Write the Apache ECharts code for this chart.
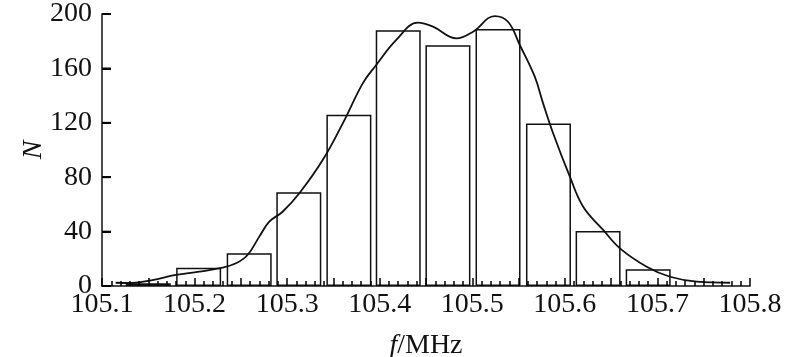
<!DOCTYPE html>
<html>
<head>
<meta charset="utf-8">
<script src="https://cdn.jsdelivr.net/npm/echarts@6/dist/echarts.min.js"></script>
<style>html,body{margin:0;padding:0;background:#fff}#c{width:800px;height:357px}</style>
</head>
<body>
<div id="c"></div>
<script>
// Histogram bin centres (MHz) and counts
const binCenters = [105.150, 105.2044, 105.259, 105.3126, 105.3667, 105.420, 105.4737, 105.5278, 105.5823, 105.6359, 105.690];
const binCounts  = [2, 13.5, 24, 69, 126, 188, 177, 189, 119.5, 40.5, 12.4];

// Fitted smooth curve points
const curveX = [105.1148, 105.1328, 105.1544, 105.1798, 105.205, 105.2302, 105.2447, 105.2572, 105.2699, 105.2807, 105.2951, 105.3132, 105.3384, 105.3601, 105.3817, 105.3962, 105.4179, 105.4412, 105.4575, 105.4828, 105.5008, 105.5242, 105.5386, 105.5513, 105.5675, 105.5765, 105.5873, 105.6054, 105.6198, 105.6414, 105.6595, 105.6884, 105.7136, 105.7425, 105.7786];
const curveY = [2.4, 2.2, 4.4, 8.1, 10.5, 13.5, 16.7, 22.8, 36.3, 47.3, 54.6, 68.2, 92.6, 119.6, 149.0, 162.5, 180.9, 193.6, 190.7, 182.1, 187.0, 198.5, 194.3, 177.2, 153.9, 134.3, 112.3, 80.4, 58.3, 41.2, 27.7, 14.2, 6.8, 3.2, 2.4];

// Tick labels
const xTickLabels = ['105.1', '105.2', '105.3', '105.4', '105.5', '105.6', '105.7', '105.8'];
const yTickLabels = ['0', '40', '80', '120', '160', '200'];
const yTickValues = [40, 80, 120, 160, 200];

const FONT = '"Liberation Serif", "DejaVu Serif", serif';
const chart = echarts.init(document.getElementById('c'), null, {renderer: 'canvas'});

chart.setOption({
  animation: false,
  backgroundColor: '#fff',
  grid: {left: 102, right: 50, top: 14, bottom: 71, containLabel: false, outerBoundsMode: 'none'},
  xAxis: {
    type: 'value',
    z: 10,
    min: 105.1, max: 105.8, interval: 0.05,
    name: '{i|f}{r|/MHz}',
    nameLocation: 'middle',
    nameGap: 46,
    nameMoveOverlap: false,
    nameTextStyle: {
      rich: {
        i: {fontFamily: FONT, fontSize: 28, fontStyle: 'italic', color: '#111'},
        r: {fontFamily: FONT, fontSize: 28, color: '#111'}
      }
    },
    axisLine: {show: true, lineStyle: {color: '#111', width: 1.5}},
    axisTick: {show: true, inside: true, length: 8, lineStyle: {color: '#000', width: 1.5}},
    minorTick: {show: true, splitNumber: 5, length: 5, lineStyle: {color: '#000', width: 1.5}},
    splitLine: {show: false},
    minorSplitLine: {show: false},
    axisLabel: {
      fontFamily: FONT, fontSize: 28, color: '#111', margin: 5,
      formatter: function (v) {
        const k = Math.round((v - 105.1) * 100);
        if (k % 10 !== 0) return '';
        return xTickLabels[k / 10] || '';
      }
    }
  },
  yAxis: {
    type: 'value',
    z: 10,
    min: 0, max: 200, interval: 40,
    name: 'N',
    nameLocation: 'middle',
    nameGap: 54,
    nameMoveOverlap: false,
    nameTextStyle: {fontFamily: FONT, fontSize: 28, fontStyle: 'italic', color: '#111'},
    axisLine: {show: true, onZero: false, lineStyle: {color: '#111', width: 1.5}},
    axisTick: {show: true, inside: true, length: 9, lineStyle: {color: '#000', width: 2}},
    splitLine: {show: false},
    axisLabel: {
      fontFamily: FONT, fontSize: 28, color: '#111', margin: 10,
      formatter: function (v) { return yTickLabels[Math.round(v / 40)]; }
    }
  },
  series: [
    {
      type: 'bar',
      data: binCenters.map((x, i) => [x, binCounts[i]]),
      barWidth: 45,
      itemStyle: {color: '#fff', borderColor: '#111', borderWidth: 1.5},
      z: 2
    },
    {
      type: 'line',
      data: curveX.map((x, i) => [x, curveY[i]]),
      smooth: 0.4,
      showSymbol: false,
      lineStyle: {color: '#111', width: 1.8},
      z: 3
    },
    {
      // inward tick marks on the y axis
      type: 'scatter',
      data: yTickValues.map(v => [105.1, v]),
      symbol: 'rect',
      symbolSize: [9, 2],
      symbolOffset: [4.5, 0],
      itemStyle: {color: '#000'},
      clip: false,
      silent: true,
      z: 11
    }
  ]
});
</script>
</body>
</html>
